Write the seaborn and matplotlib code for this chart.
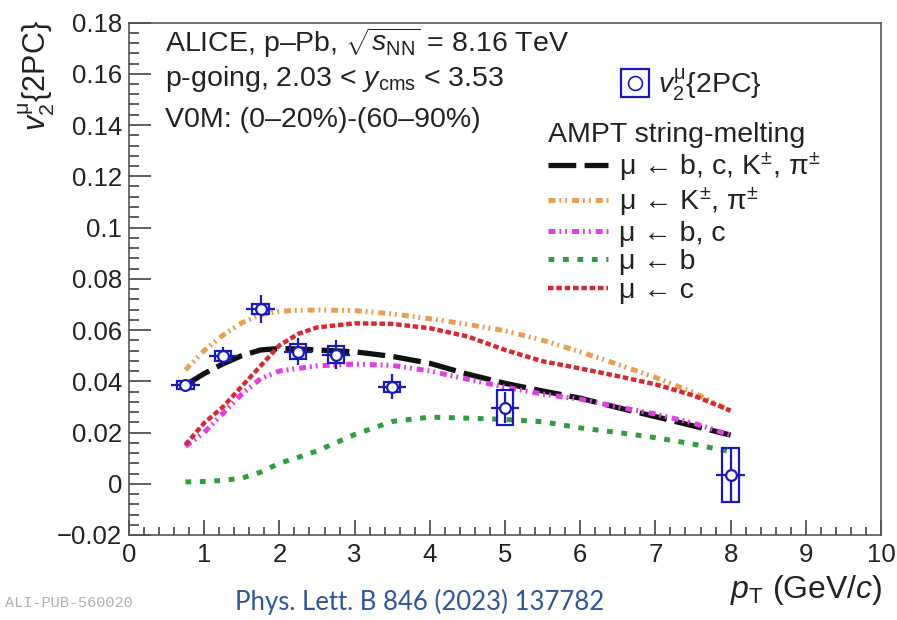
import numpy as np
import pandas as pd
import matplotlib
matplotlib.use("Agg")
import matplotlib.pyplot as plt
from matplotlib.lines import Line2D
from matplotlib.legend_handler import HandlerTuple
from matplotlib.ticker import MultipleLocator, FuncFormatter
import seaborn as sns

# ---- measured v2 (muons), p-going ----
pt_data = [0.75, 1.25, 1.75, 2.25, 2.75, 3.5, 5.0, 8.0]
v2_data = [0.0385, 0.0499, 0.0681, 0.0516, 0.0503, 0.0379, 0.0297, 0.0035]
v2_stat = [0.0020, 0.0035, 0.0055, 0.0053, 0.0057, 0.0049, 0.0060, 0.0105]
v2_syst = [0.0016, 0.0020, 0.0020, 0.0030, 0.0033, 0.0020, 0.0068, 0.0105]

# ---- AMPT string-melting curves ----
pt_model = [0.75, 1.0, 1.25, 1.5, 1.75, 2.0, 2.25, 2.5, 3.0, 3.5, 4.0, 4.5,
            5.0, 5.5, 6.0, 6.5, 7.0, 7.5, 8.0]
v2_all = [0.0385, 0.0430, 0.0468, 0.0500, 0.0522, 0.0528, 0.0526, 0.0522, 0.0515,
          0.0497, 0.0470, 0.0428, 0.0392, 0.0362, 0.0334, 0.0297, 0.0262, 0.0226, 0.0190]
v2_kpi = [0.0444, 0.0520, 0.0580, 0.0628, 0.0660, 0.0673, 0.0677, 0.0678, 0.0676,
          0.0663, 0.0644, 0.0622, 0.0597, 0.0560, 0.0515, 0.0466, 0.0415, 0.0357, 0.0285]
v2_bc = [0.0146, 0.0200, 0.0275, 0.0350, 0.0410, 0.0440, 0.0450, 0.0460, 0.0467,
         0.0462, 0.0440, 0.0408, 0.0377, 0.0350, 0.0330, 0.0300, 0.0272, 0.0237, 0.0190]
v2_b = [0.0007, 0.0009, 0.0013, 0.0022, 0.0045, 0.0080, 0.0103, 0.0128, 0.0192,
        0.0243, 0.0260, 0.0256, 0.0251, 0.0242, 0.0218, 0.0200, 0.0180, 0.0155, 0.0125]
v2_c = [0.0152, 0.0237, 0.0300, 0.0380, 0.0460, 0.0540, 0.0585, 0.0610, 0.0626,
        0.0624, 0.0607, 0.0575, 0.0522, 0.0478, 0.0450, 0.0420, 0.0388, 0.0345, 0.0285]

model_labels = [r"μ ← b, c, K$^{\pm}$, π$^{\pm}$", r"μ ← K$^{\pm}$, π$^{\pm}$",
                "μ ← b, c", "μ ← b", "μ ← c"]

sns.set_theme(style="white")
plt.rcParams["font.family"] = ["Liberation Sans", "DejaVu Sans"]
plt.rcParams["mathtext.fontset"] = "custom"
plt.rcParams["mathtext.rm"] = "Liberation Sans"
plt.rcParams["mathtext.it"] = "Liberation Sans:italic"
plt.rcParams["mathtext.bf"] = "Liberation Sans:bold"
plt.rcParams["lines.scale_dashes"] = False

W, H = 897, 620
fig = plt.figure(figsize=(W / 100, H / 100), dpi=100)
fig.patch.set_facecolor("white")
ax = fig.add_axes([129 / W, 1 - 535 / H, (881 - 129) / W, (535 - 22.5) / H])
ax.set_facecolor("white")


def fx(px):
    return px / W


def fy(py):
    return 1 - py / H


BLUE = "#1a1ab4"
styles = [
    (v2_all, "#111111", 3.8, (0, (20, 6))),
    (v2_kpi, "#e8a055", 3.6, (0, (5, 2.8, 1.4, 2.8, 1.4, 3.6))),
    (v2_bc, "#e040e0", 3.6, (0, (5, 2.8, 1.4, 2.8, 1.4, 3.6))),
    (v2_b, "#2e9e3e", 3.6, (0, (4.2, 6.2))),
    (v2_c, "#d42a33", 3.2, (0, (4.0, 2.0))),
]
handles = []
for (vals, col, lw, ls), lab in zip(styles, model_labels):
    df = pd.DataFrame({"pt": pt_model, "v2": vals})
    sns.lineplot(data=df, x="pt", y="v2", color=col, ax=ax, legend=False,
                 linewidth=lw, zorder=2)
    line = ax.lines[-1]
    line.set_linestyle(ls)
    line.set_dash_capstyle("butt")
    handles.append(Line2D([], [], color=col, lw=lw, linestyle=ls,
                          dash_capstyle="butt", label=lab))

# systematic boxes
ax.bar(pt_data, [2 * s for s in v2_syst],
       bottom=[v - s for v, s in zip(v2_data, v2_syst)], width=0.22,
       fill=False, edgecolor=BLUE, linewidth=1.6, zorder=3)
# statistical errors
ax.errorbar(pt_data, v2_data, yerr=v2_stat, xerr=0.19, fmt="none",
            ecolor=BLUE, elinewidth=1.6, capsize=0, zorder=4)
sns.scatterplot(x=pt_data, y=v2_data, marker="o", s=60, facecolor="white",
                edgecolor=BLUE, linewidth=1.6, zorder=5, ax=ax, legend=False)

ax.set_xlim(0, 10)
ax.set_ylim(-0.02, 0.18)
ax.xaxis.set_major_locator(MultipleLocator(1))
ax.xaxis.set_minor_locator(MultipleLocator(0.2))
ax.yaxis.set_major_locator(MultipleLocator(0.02))
ax.yaxis.set_minor_locator(MultipleLocator(0.004))


def fmt(v, pos):
    s = "%g" % round(v, 4)
    return s.replace("-", "\u2212")


ax.xaxis.set_major_formatter(FuncFormatter(fmt))
ax.yaxis.set_major_formatter(FuncFormatter(fmt))
ax.tick_params(axis="both", which="both", direction="in", colors="#333333",
               labelcolor="#222222", labelsize=18.5, width=1.1,
               top=False, right=False, bottom=True, left=True)
ax.tick_params(axis="y", which="major", length=16, pad=5)
ax.tick_params(axis="y", which="minor", length=7.5)
ax.tick_params(axis="x", which="major", length=11, pad=6)
ax.tick_params(axis="x", which="minor", length=5.5)
for sp in ax.spines.values():
    sp.set_color("#555555")
    sp.set_linewidth(1.2)
ax.set_xlabel("")
ax.set_ylabel("")

# axis titles
fig.text(fx(882), fy(590), r"$p_{\mathrm{T}}$ (GeV/$c$)", ha="right", va="center",
         fontsize=23, color="#222222")
fig.text(fx(37), fy(20), r"$v_{2}^{\mathrm{\mu}}${2PC}", ha="center", va="top",
         rotation=90, fontsize=22, color="#222222")

# header text
txt_kw = dict(fontsize=20.5, color="#222222", ha="left", va="center")
fig.text(fx(165), fy(43), r"ALICE, p–Pb, $\sqrt{s_{\mathrm{NN}}}$ = 8.16 TeV", **txt_kw)
fig.text(fx(165), fy(79), r"p-going, 2.03 < $y_{\mathrm{cms}}$ < 3.53", **txt_kw)
fig.text(fx(165), fy(120), "V0M: (0–20%)-(60–90%)", **txt_kw)

# legends
data_handle = (Line2D([], [], marker="s", ms=20, mfc="none", mec=BLUE, mew=1.6, ls="none"),
               Line2D([], [], marker="o", ms=10, mfc="none", mec=BLUE, mew=1.2, ls="none"))
leg1 = ax.legend([data_handle], [r"$v_{2}^{\mathrm{\mu}}${2PC}"],
                 handler_map={tuple: HandlerTuple(ndivide=1)},
                 loc="center left", bbox_to_anchor=(fx(621), fy(85)),
                 bbox_transform=fig.transFigure, frameon=False, fontsize=20.5,
                 handlelength=1.0, handletextpad=0.3, borderpad=0, borderaxespad=0)
for t in leg1.get_texts():
    t.set_color("#222222")
ax.add_artist(leg1)

leg2 = ax.legend(handles=handles, title="AMPT string-melting", alignment="left",
                 loc="upper left", bbox_to_anchor=(fx(548), fy(122)),
                 bbox_transform=fig.transFigure, frameon=False, fontsize=20.5,
                 title_fontsize=20.5, handlelength=2.1, handletextpad=0.38,
                 labelspacing=0.09, borderpad=0, borderaxespad=0)
for t in leg2.get_texts():
    t.set_color("#222222")
leg2.get_title().set_color("#222222")

# footer
fig.text(fx(5), fy(603), "ALI-PUB-560020", fontsize=11, color="#b0b0b0",
         family=["Liberation Mono", "DejaVu Sans Mono"], ha="left", va="center")
fig.text(fx(420), fy(602), "Phys. Lett. B 846 (2023) 137782", fontsize=18.5,
         color="#2f5597", family=["Lato", "DejaVu Sans"], ha="center", va="center")

fig.savefig("out.png", dpi=100, facecolor="white")
